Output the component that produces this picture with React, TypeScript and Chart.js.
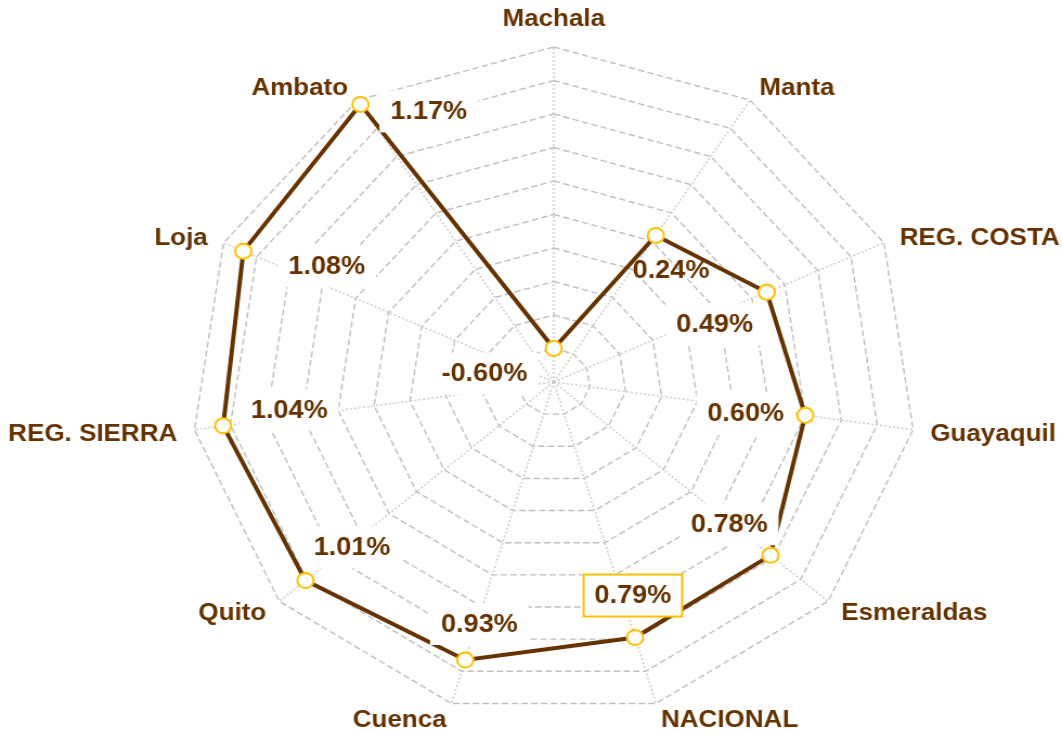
import React, { useEffect, useRef } from 'react';
import { Chart, registerables } from 'chart.js';

Chart.register(...registerables);

// ---- Data ----
const categories = [
  'Machala',
  'Manta',
  'REG. COSTA',
  'Guayaquil',
  'Esmeraldas',
  'NACIONAL',
  'Cuenca',
  'Quito',
  'REG. SIERRA',
  'Loja',
  'Ambato',
];
const values = [-0.6, 0.24, 0.49, 0.6, 0.78, 0.79, 0.93, 1.01, 1.04, 1.08, 1.17];

const scaleMin = -0.8;
const scaleMax = 1.2;
const scaleStep = 0.2;

// ---- Styling (label placement relative to each point, in canvas px) ----
const labelDX = [-64, 14, -48, -55, -38, -2, 13, 43, 61, 77, 63];
const labelDY = [25, 35, 32, -2, -31, -42, -36, -33, -16, 15, 7];
const labelBoxed = [true, false, true, true, true, true, true, true, true, true, true];
const highlightedIndex = 5;

const BROWN = '#663300';
const GOLD = '#FFC000';
const FONT = '"Liberation Sans", Arial, sans-serif';

const INTERNAL_W = 980;
const INTERNAL_H = 734;
const DISPLAY_W = 1062;
const DISPLAY_H = 734;

export default function App() {
  const ref = useRef<HTMLCanvasElement>(null);

  useEffect(() => {
    document.body.style.margin = '0';
    document.body.style.background = '#ffffff';
    const canvas = ref.current!;

    const pointLabelPlugin = {
      id: 'excelPointLabels',
      afterDraw(chart: any) {
        const scale = chart.scales.r;
        const ctx = chart.ctx as CanvasRenderingContext2D;
        ctx.save();
        ctx.font = `bold 24px ${FONT}`;
        ctx.fillStyle = BROWN;
        ctx.textBaseline = 'middle';
        categories.forEach((label, i) => {
          const angle = scale.getIndexAngle(i);
          const pos = scale.getPointPosition(i, scale.drawingArea + 16);
          const s = Math.sin(angle);
          const c = Math.cos(angle);
          ctx.textAlign = Math.abs(s) < 0.01 ? 'center' : s > 0 ? 'left' : 'right';
          const y = c > 0.99 ? pos.y - 12 : pos.y + 2;
          ctx.fillText(label, pos.x, y);
        });
        ctx.restore();
      },
    };

    const dataLabelPlugin = {
      id: 'excelDataLabels',
      afterDatasetsDraw(chart: any) {
        const ctx = chart.ctx as CanvasRenderingContext2D;
        const meta = chart.getDatasetMeta(0);
        ctx.save();
        ctx.font = `bold 25px ${FONT}`;
        ctx.textAlign = 'center';
        ctx.textBaseline = 'middle';
        meta.data.forEach((pt: any, i: number) => {
          const text = values[i].toFixed(2) + '%';
          const x = pt.x + labelDX[i];
          const y = pt.y + labelDY[i];
          const w = ctx.measureText(text).width + 20;
          const h = 42;
          if (labelBoxed[i]) {
            ctx.fillStyle = '#ffffff';
            ctx.fillRect(x - w / 2, y - h / 2, w, h);
          }
          if (i === highlightedIndex) {
            ctx.strokeStyle = GOLD;
            ctx.lineWidth = 2;
            ctx.strokeRect(x - w / 2, y - h / 2, w, h);
          }
          ctx.fillStyle = BROWN;
          ctx.fillText(text, x, y + 1);
        });
        ctx.restore();
      },
    };

    const chart = new Chart(canvas, {
      type: 'radar',
      data: {
        labels: categories,
        datasets: [
          {
            data: values,
            borderColor: BROWN,
            borderWidth: 4,
            fill: false,
            tension: 0,
            pointRadius: 7.5,
            pointHoverRadius: 7.5,
            pointBorderWidth: 2,
            pointBorderColor: GOLD,
            pointBackgroundColor: '#ffffff',
          },
        ],
      },
      options: {
        responsive: false,
        animation: false,
        devicePixelRatio: 1,
        layout: { padding: { top: 47, bottom: 17, left: 176, right: 134 } },
        plugins: {
          legend: { display: false },
          tooltip: { enabled: false },
        },
        scales: {
          r: {
            min: scaleMin,
            max: scaleMax,
            ticks: { stepSize: scaleStep, display: false },
            pointLabels: { display: false },
            grid: { color: '#BFBFBF', lineWidth: 1.4, circular: false },
            border: { dash: [6, 3] } as any,
            angleLines: {
              color: '#CCCCCC',
              lineWidth: 1.5,
              borderDash: [2, 2],
            },
          },
        },
      },
      plugins: [dataLabelPlugin, pointLabelPlugin],
    } as any);

    return () => chart.destroy();
  }, []);

  return (
    <div style={{ width: DISPLAY_W, height: DISPLAY_H, background: '#ffffff' }}>
      <canvas
        ref={ref}
        width={INTERNAL_W}
        height={INTERNAL_H}
        style={{ width: DISPLAY_W + 'px', height: DISPLAY_H + 'px', display: 'block' }}
      />
    </div>
  );
}
